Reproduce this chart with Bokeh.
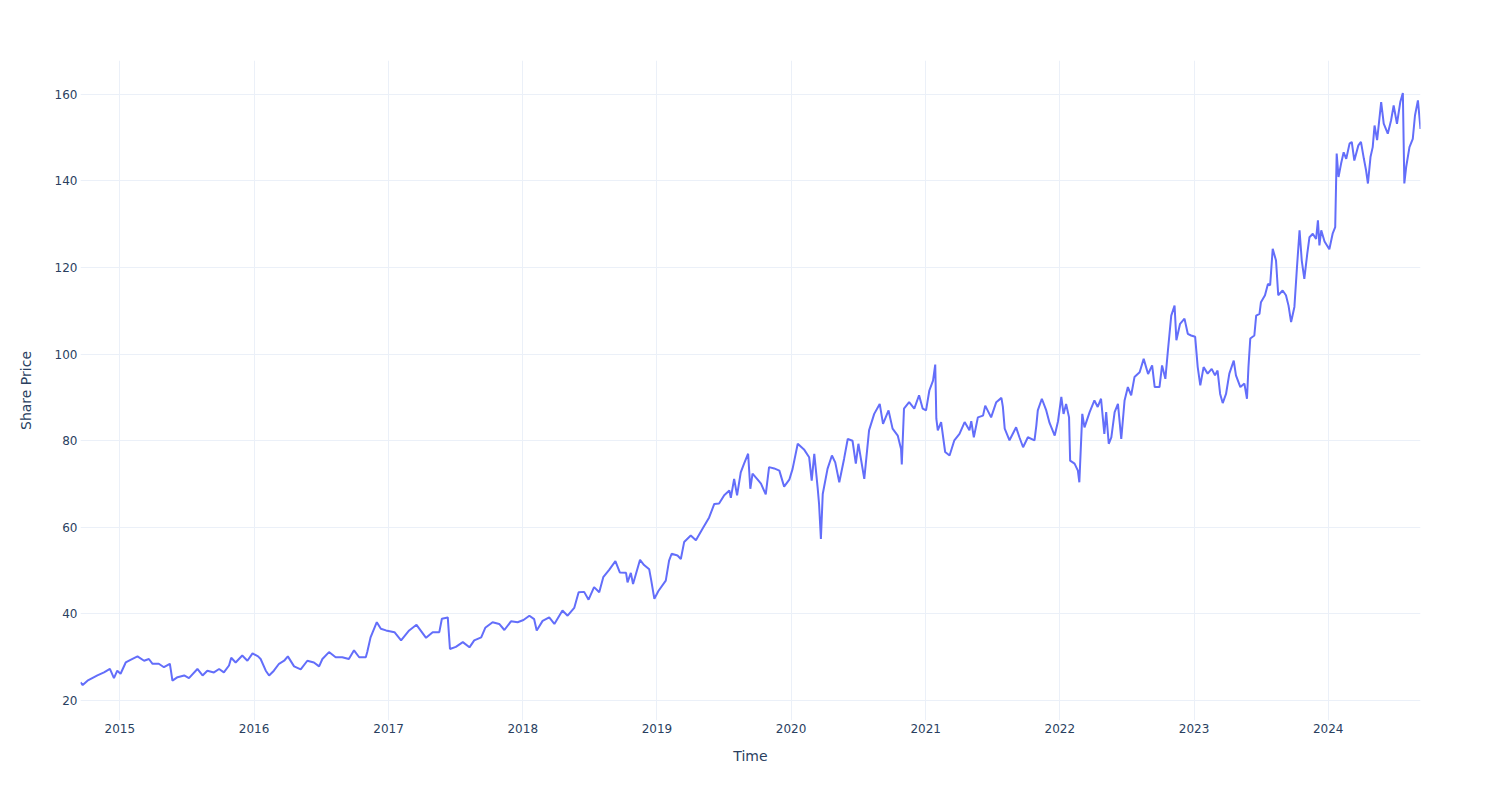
import pandas as pd
from bokeh.plotting import figure
from bokeh.models import Range1d, FixedTicker, DatetimeTickFormatter, ColumnDataSource
from bokeh.embed import file_html
from bokeh.resources import INLINE

# ---- data ----
dates = [
    "2014-09-16", "2014-09-22", "2014-10-05", "2014-11-01", "2014-11-19", "2014-12-05", "2014-12-16", "2014-12-25",
    "2015-01-03", "2015-01-17", "2015-01-30", "2015-02-18", "2015-03-08", "2015-03-21", "2015-03-31", "2015-04-17",
    "2015-05-01", "2015-05-17", "2015-05-20", "2015-05-24", "2015-06-07", "2015-06-25", "2015-07-08", "2015-07-31",
    "2015-08-14", "2015-08-27", "2015-09-14", "2015-09-28", "2015-10-11", "2015-10-25", "2015-10-31", "2015-11-12",
    "2015-11-30", "2015-12-14", "2015-12-28",
    "2016-01-12", "2016-01-19", "2016-02-02", "2016-02-11", "2016-02-24", "2016-03-09", "2016-03-23", "2016-04-02",
    "2016-04-19", "2016-05-07", "2016-05-25", "2016-06-12", "2016-06-26", "2016-07-05", "2016-07-23", "2016-08-10",
    "2016-08-28", "2016-09-15", "2016-09-29", "2016-10-13", "2016-10-31", "2016-11-04", "2016-11-13", "2016-11-30",
    "2016-12-11", "2016-12-25",
    "2017-01-17", "2017-02-04", "2017-02-26", "2017-03-18", "2017-04-13", "2017-05-01", "2017-05-19", "2017-05-26",
    "2017-06-11", "2017-06-17", "2017-07-03", "2017-07-22", "2017-08-09", "2017-08-22", "2017-09-10", "2017-09-21",
    "2017-10-11", "2017-10-29", "2017-11-12", "2017-11-30", "2017-12-18",
    "2018-01-03", "2018-01-19", "2018-02-01", "2018-02-08", "2018-02-24", "2018-03-14", "2018-03-28", "2018-04-19",
    "2018-05-03", "2018-05-21", "2018-06-02", "2018-06-17", "2018-06-29", "2018-07-14", "2018-07-28", "2018-08-08",
    "2018-08-24", "2018-09-10", "2018-09-22", "2018-10-09", "2018-10-13", "2018-10-22", "2018-10-28", "2018-11-16",
    "2018-11-27", "2018-12-11", "2018-12-16", "2018-12-25",
    "2019-01-05", "2019-01-25", "2019-02-03", "2019-02-10", "2019-02-26", "2019-03-07", "2019-03-16", "2019-04-03",
    "2019-04-17", "2019-05-05", "2019-05-23", "2019-06-06", "2019-06-19", "2019-07-03", "2019-07-17", "2019-07-21",
    "2019-07-30", "2019-08-07", "2019-08-17", "2019-08-26", "2019-09-06", "2019-09-12", "2019-09-18", "2019-10-02",
    "2019-10-11", "2019-10-24", "2019-11-02", "2019-11-16", "2019-11-30", "2019-12-13", "2019-12-27",
    "2020-01-05", "2020-01-19", "2020-02-05", "2020-02-19", "2020-02-26", "2020-03-04", "2020-03-13", "2020-03-17",
    "2020-03-22", "2020-03-27", "2020-04-09", "2020-04-21", "2020-04-30", "2020-05-11", "2020-05-24", "2020-06-03",
    "2020-06-16", "2020-06-25", "2020-07-02", "2020-07-18", "2020-07-31", "2020-08-14", "2020-08-29", "2020-09-07",
    "2020-09-22", "2020-10-03", "2020-10-17", "2020-10-26", "2020-10-28", "2020-11-03", "2020-11-17", "2020-12-01",
    "2020-12-14", "2020-12-24",
    "2021-01-02", "2021-01-11", "2021-01-21", "2021-01-27", "2021-01-30", "2021-02-03", "2021-02-12", "2021-02-23",
    "2021-03-07", "2021-03-20", "2021-04-03", "2021-04-17", "2021-04-30", "2021-05-05", "2021-05-12", "2021-05-23",
    "2021-06-06", "2021-06-12", "2021-06-28", "2021-07-12", "2021-07-26", "2021-07-30", "2021-08-04", "2021-08-17",
    "2021-09-04", "2021-09-13", "2021-09-23", "2021-10-06", "2021-10-24", "2021-10-29", "2021-11-02", "2021-11-13",
    "2021-11-25", "2021-12-04", "2021-12-18", "2021-12-27",
    "2022-01-05", "2022-01-11", "2022-01-18", "2022-01-26", "2022-01-29", "2022-02-10", "2022-02-19", "2022-02-23",
    "2022-03-03", "2022-03-09", "2022-03-23", "2022-04-05", "2022-04-14", "2022-04-23", "2022-05-02", "2022-05-07",
    "2022-05-14", "2022-05-21", "2022-05-30", "2022-06-08", "2022-06-17", "2022-06-26", "2022-07-05", "2022-07-14",
    "2022-07-23", "2022-08-06", "2022-08-17", "2022-08-29", "2022-09-09", "2022-09-16", "2022-09-29", "2022-10-06",
    "2022-10-15", "2022-10-22", "2022-10-31", "2022-11-09", "2022-11-14", "2022-11-24", "2022-12-06", "2022-12-15",
    "2022-12-24",
    "2023-01-04", "2023-01-11", "2023-01-18", "2023-01-27", "2023-02-07", "2023-02-18", "2023-02-27", "2023-03-06",
    "2023-03-13", "2023-03-20", "2023-03-29", "2023-04-07", "2023-04-19", "2023-04-25", "2023-05-07", "2023-05-18",
    "2023-05-25", "2023-05-29", "2023-06-03", "2023-06-14", "2023-06-19", "2023-06-28", "2023-07-02", "2023-07-13",
    "2023-07-21", "2023-07-27", "2023-08-03", "2023-08-12", "2023-08-18", "2023-08-30", "2023-09-08", "2023-09-15",
    "2023-09-22", "2023-10-01", "2023-10-08", "2023-10-15", "2023-10-21", "2023-10-28", "2023-11-05", "2023-11-11",
    "2023-11-20", "2023-11-29", "2023-12-04", "2023-12-08", "2023-12-13", "2023-12-22",
    "2024-01-04", "2024-01-13", "2024-01-20", "2024-01-24", "2024-01-29", "2024-02-05", "2024-02-12", "2024-02-19",
    "2024-02-28", "2024-03-05", "2024-03-12", "2024-03-23", "2024-03-30", "2024-04-07", "2024-04-13", "2024-04-18",
    "2024-04-25", "2024-05-01", "2024-05-06", "2024-05-13", "2024-05-24", "2024-05-31", "2024-06-11", "2024-06-20",
    "2024-06-27", "2024-07-06", "2024-07-15", "2024-07-22", "2024-07-26", "2024-07-31", "2024-08-09", "2024-08-18",
    "2024-08-24", "2024-09-01", "2024-09-08",
]

share_price = [
    24.2, 23.6, 24.6, 25.8, 26.5, 27.3, 25.2, 26.9,
    26.2, 28.8, 29.4, 30.2, 29.2, 29.6, 28.5, 28.5,
    27.7, 28.5, 26.9, 24.6, 25.4, 25.8, 25.2, 27.3,
    25.8, 26.9, 26.5, 27.3, 26.5, 28.1, 29.9, 28.8,
    30.4, 29.2, 30.9,
    30.2, 29.6, 26.9, 25.8, 26.9, 28.5, 29.2, 30.2,
    27.9, 27.2, 29.2, 28.8, 27.9, 29.6, 31.2, 30.0,
    30.0, 29.6, 31.6, 30.0, 30.0, 31.2, 34.6, 38.1,
    36.6, 36.2,
    35.8, 33.9, 36.2, 37.5, 34.5, 35.8, 35.8, 38.9,
    39.2, 31.9, 32.4, 33.5, 32.3, 33.9, 34.6, 36.8,
    38.1, 37.7, 36.3, 38.3, 38.1,
    38.6, 39.6, 38.8, 36.2, 38.4, 39.2, 37.7, 40.8,
    39.6, 41.4, 45.0, 45.1, 43.3, 46.2, 45.0, 48.5,
    50.2, 52.2, 49.6, 49.5, 47.3, 49.5, 46.9, 52.5,
    51.3, 50.3, 48.0, 43.5,
    45.3, 47.7, 52.3, 53.9, 53.5, 52.7, 56.6, 58.1,
    57.0, 59.7, 62.3, 65.4, 65.5, 67.4, 68.5, 66.8,
    71.2, 67.4, 72.7, 74.7, 77.0, 68.9, 72.4, 71.0,
    70.1, 67.6, 73.9, 73.6, 73.1, 69.4, 71.0,
    73.5, 79.3, 78.0, 76.2, 70.8, 77.0, 69.3, 65.4,
    57.3, 67.7, 73.5, 76.6, 75.0, 70.4, 75.8, 80.4,
    80.0, 74.7, 79.3, 71.2, 82.4, 86.2, 88.5, 83.9,
    87.0, 82.8, 81.2, 78.1, 74.5, 87.4, 88.9, 87.4,
    90.5, 87.4,
    87.0, 91.6, 93.9, 97.6, 85.1, 82.4, 84.3, 77.4,
    76.6, 80.1, 81.6, 84.3, 82.4, 84.5, 80.8, 85.4,
    85.8, 88.1, 85.4, 88.9, 89.9, 87.8, 82.8, 80.1,
    83.1, 80.8, 78.5, 80.8, 80.1, 83.5, 87.0, 89.7,
    87.0, 84.1, 81.2, 84.5,
    90.1, 86.2, 88.5, 85.4, 75.4, 74.7, 73.1, 70.4,
    86.2, 83.1, 86.6, 89.3, 87.8, 89.7, 81.6, 86.6,
    79.3, 80.8, 86.6, 88.5, 80.4, 89.3, 92.4, 90.5,
    94.7, 95.8, 98.9, 95.4, 97.4, 92.4, 92.4, 97.4,
    94.3, 100.9, 108.9, 111.2, 103.2, 107.0, 108.2, 104.7,
    104.3,
    104.0, 97.0, 92.8, 97.0, 95.5, 96.6, 95.1, 96.2,
    90.8, 88.7, 90.8, 95.5, 98.5, 95.1, 92.4, 93.2,
    89.7, 97.0, 103.6, 104.3, 108.9, 109.3, 112.0, 113.6,
    116.2, 115.9, 124.3, 121.6, 113.6, 114.7, 113.6, 111.2,
    107.4, 110.9, 120.1, 128.6, 121.6, 117.4, 123.2, 127.0,
    127.8, 126.6, 130.9, 125.1, 128.6, 126.0,
    124.2, 127.8, 129.3, 146.3, 140.9, 144.0, 146.6, 145.1,
    148.6, 149.0, 144.7, 148.2, 149.0, 145.1, 142.4, 139.4,
    145.5, 147.8, 152.8, 149.4, 158.2, 153.2, 150.9, 154.0,
    157.4, 153.2, 158.2, 160.3, 139.4, 143.2, 147.8, 149.7,
    155.1, 158.6, 152.0,
]

year_ticks = [2015, 2016, 2017, 2018, 2019, 2020, 2021, 2022, 2023, 2024]
price_ticks = [20, 40, 60, 80, 100, 120, 140, 160]

# ---- build ----
t = pd.to_datetime(dates)
src = ColumnDataSource(data=dict(t=t, price=share_price))

FONT = "DejaVu Sans"
TXT = "#2a3f5f"
GRID = "#EBF0F8"

p = figure(
    width=1500, height=800,
    x_axis_type="datetime",
    output_backend="svg", toolbar_location=None,
    min_border_left=80, min_border_right=80,
    min_border_top=60, min_border_bottom=80,
    x_range=Range1d(t.min(), t.max()),
    y_range=Range1d(15.4, 167.8),
    background_fill_color="white", border_fill_color="white",
)
p.outline_line_color = None

p.line("t", "price", source=src, line_color="#636efa", line_width=2)

xt = FixedTicker(ticks=[pd.Timestamp(f"{y}-01-01").timestamp() * 1000 for y in year_ticks])
p.xaxis.ticker = xt
p.xaxis.formatter = DatetimeTickFormatter(years="%Y", months="%Y", days="%Y", hours="%Y",
                                          minutes="%Y", seconds="%Y", milliseconds="%Y", microseconds="%Y")
p.yaxis.ticker = FixedTicker(ticks=price_ticks)
p.xgrid.ticker = xt
p.ygrid.ticker = FixedTicker(ticks=price_ticks)

for g in (p.xgrid, p.ygrid):
    g.grid_line_color = GRID
    g.grid_line_width = 1

for ax in (p.xaxis, p.yaxis):
    ax.axis_line_color = None
    ax.major_tick_line_color = None
    ax.minor_tick_line_color = None
    ax.major_tick_in = 0
    ax.major_tick_out = 0
    ax.minor_tick_in = 0
    ax.minor_tick_out = 0
    ax.major_label_text_font = FONT
    ax.major_label_text_font_size = "12px"
    ax.major_label_text_color = TXT
    ax.axis_label_text_font = FONT
    ax.axis_label_text_font_size = "14px"
    ax.axis_label_text_color = TXT
    ax.axis_label_text_font_style = "normal"

p.xaxis.axis_label = "Time"
p.yaxis.axis_label = "Share Price"
p.xaxis.major_label_standoff = 3
p.yaxis.major_label_standoff = 3
p.xaxis.axis_label_standoff = 12
p.yaxis.axis_label_standoff = 18

open("out.html", "w").write(file_html(p, INLINE))
